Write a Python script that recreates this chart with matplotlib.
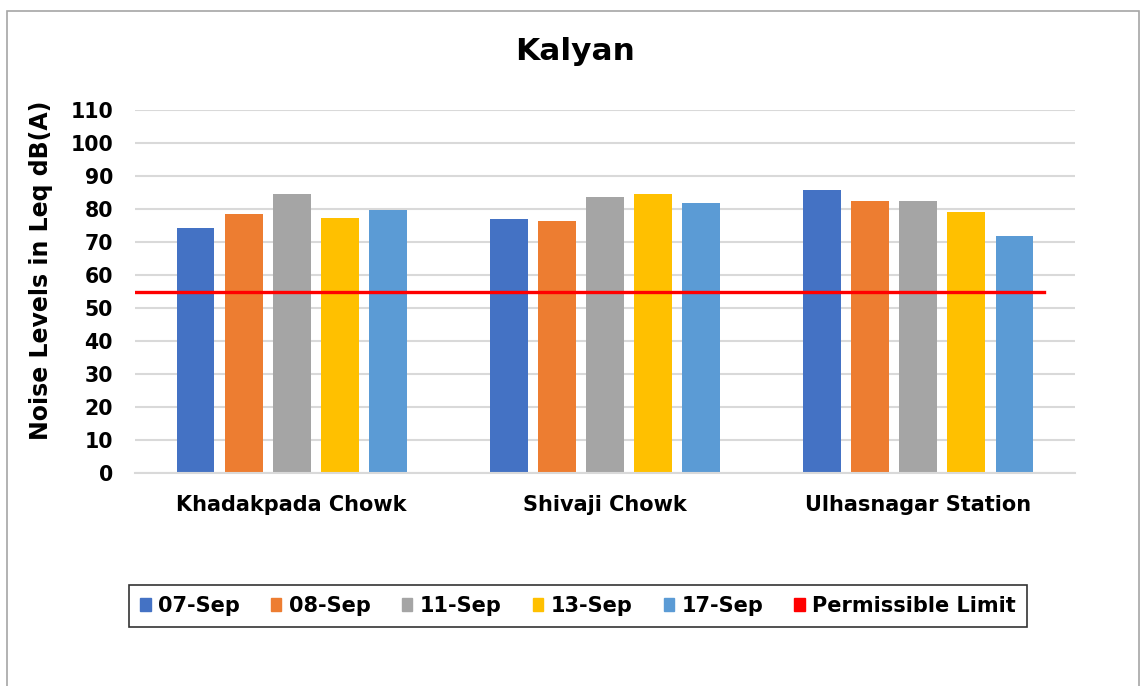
import numpy as np
import matplotlib
matplotlib.use("Agg")
import matplotlib.pyplot as plt
from matplotlib.patches import Rectangle

# -----------------------------
# data
# -----------------------------
locations = ["Khadakpada Chowk", "Shivaji Chowk", "Ulhasnagar Station"]
dates = ["07-Sep", "08-Sep", "11-Sep", "13-Sep", "17-Sep"]
noise = {
    "07-Sep": [74.2, 77.1, 85.9],
    "08-Sep": [78.4, 76.5, 82.3],
    "11-Sep": [84.5, 83.5, 82.3],
    "13-Sep": [77.4, 84.5, 79.0],
    "17-Sep": [79.6, 81.9, 71.9],
}
limit = 55
colors = ["#4472C4", "#ED7D31", "#A5A5A5", "#FFC000", "#5B9BD5"]
yticks = list(range(0, 111, 10))

plt.rcParams["font.family"] = ["DejaVu Sans"]
plt.rcParams["font.weight"] = "bold"

fig = plt.figure(figsize=(11.4, 6.86), dpi=100)
ax = fig.add_axes([135 / 1140, 1 - 473 / 686, 940 / 1140, 363 / 686])

x = np.arange(len(locations))
step = 0.1534
width = 0.121
for i, d in enumerate(dates):
    ax.bar(x + (i - 2) * step, noise[d], width=width, color=colors[i], zorder=2)

# permissible limit line
ax.plot([-0.5, 2.4], [limit, limit], color="#FF0000", linewidth=2.4, zorder=3)

# -----------------------------
# axes
# -----------------------------
ax.set_xlim(-0.5, 2.5)
ax.set_ylim(0, 110)
ax.set_yticks(yticks)
ax.set_yticklabels([str(t) for t in yticks], fontsize=14.8, fontweight="bold")
ax.set_xticks(x)
ax.set_xticklabels(locations, fontsize=15, fontweight="bold")
ax.tick_params(axis="both", length=0)
ax.tick_params(axis="x", pad=15.5)
ax.tick_params(axis="y", pad=15.8)
ax.yaxis.grid(True, color="#D9D9D9", linewidth=1.5, zorder=0)
ax.set_axisbelow(True)
for s in ["top", "right", "left"]:
    ax.spines[s].set_visible(False)
ax.spines["bottom"].set_color("#D9D9D9")
ax.spines["bottom"].set_linewidth(1.5)

ax.set_ylabel("Noise Levels in Leq dB(A)", fontsize=17, fontweight="bold")
ax.yaxis.set_label_coords((53 - 135) / 940, (473 - 270) / 363)
fig.text(575 / 1140, 1 - 52 / 686, "Kalyan", ha="center", va="center",
         fontsize=22.5, fontweight="bold")

# legend
handles = [Rectangle((0, 0), 1, 1, color=c) for c in colors]
handles.append(Rectangle((0, 0), 1, 1, color="#FF0000"))
labels = dates + ["Permissible Limit"]
leg = fig.legend(handles, labels, loc="center", bbox_to_anchor=(578 / 1140, 1 - 606 / 686),
                 ncol=6, fontsize=15, frameon=True, fancybox=False,
                 handlelength=0.5, handleheight=0.6, handletextpad=0.35, columnspacing=1.5,
                 borderpad=0.55)
leg.get_frame().set_edgecolor("black")
leg.get_frame().set_linewidth(1.2)
for t in leg.get_texts():
    t.set_fontweight("bold")

# chart border
fig.patches.append(Rectangle((7 / 1140, -0.01), 1132 / 1140, 1 - 11 / 686 + 0.01,
                             transform=fig.transFigure, fill=False,
                             edgecolor="#A6A6A6", linewidth=1.2))

fig.savefig("out.png", dpi=100)
